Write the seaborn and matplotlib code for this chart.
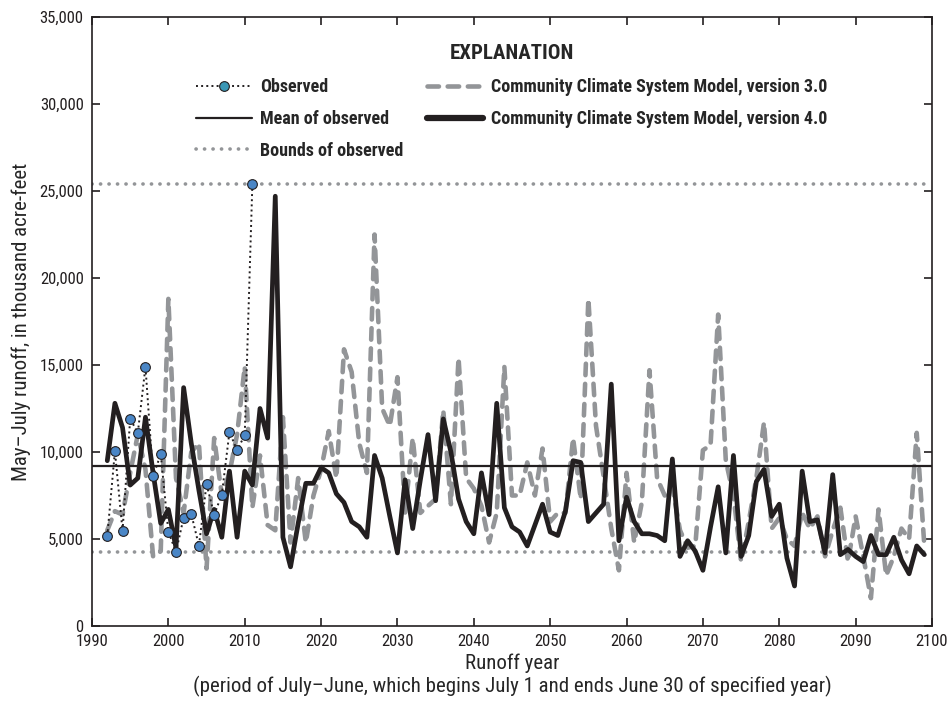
import matplotlib
matplotlib.use("Agg")
import matplotlib.pyplot as plt
from matplotlib.lines import Line2D
from matplotlib.ticker import FuncFormatter
import seaborn as sns
import numpy as np
import pandas as pd

# ---------------- data (thousand acre-feet) ----------------
obs_years = list(range(1992, 2012))
obs_values = [5160, 10040, 5470, 11910, 11100, 14900, 8600, 9880, 5410, 4260,
              6230, 6440, 4610, 8150, 6400, 7550, 11150, 10100, 10970, 25400]

model_years = list(range(1992, 2100))
ccsm3_values = [
    5500, 6600, 6400, 8800, 11000, 9000, 4000, 4300, 18800, 8500,      # 1992-2001
    6500, 10000, 10500, 3300, 10800, 7500, 8800, 11000, 14900, 6800,   # 2002-2011
    9800, 5800, 5500, 12000, 4800, 8500, 4800, 7500, 9000, 11200,      # 2012-2021
    8500, 15900, 14600, 10500, 8800, 22500, 12500, 11500, 14300, 6500, # 2022-2031
    10800, 6500, 6900, 7300, 12400, 7000, 15400, 8500, 7900, 6900,     # 2032-2041
    4800, 6500, 14900, 7500, 7500, 9400, 7500, 10200, 6000, 6500,      # 2042-2051
    6500, 10800, 7300, 18800, 11500, 8600, 5600, 3200, 8800, 4800,     # 2052-2061
    7100, 14700, 8500, 7500, 8000, 5500, 4500, 4600, 10100, 10400,     # 2062-2071
    17900, 9500, 7500, 3700, 6000, 8500, 11700, 5600, 6200, 5000,      # 2072-2081
    4600, 6500, 5600, 6300, 4000, 5500, 6800, 3700, 6300, 4000,        # 2082-2091
    1600, 6700, 2900, 4000, 5600, 5000, 11100, 4600,                   # 2092-2099
]
ccsm4_values = [
    9500, 12800, 11400, 8100, 8500, 12000, 8800, 5900, 6700, 4500,     # 1992-2001
    13700, 10500, 7800, 5300, 6700, 5100, 8900, 5100, 8900, 8100,      # 2002-2011
    12500, 10800, 24700, 5100, 3400, 5900, 8200, 8200, 9100, 8800,     # 2012-2021
    7600, 7100, 6000, 5700, 5100, 9800, 8500, 6300, 4200, 8400,        # 2022-2031
    5600, 8400, 11000, 7200, 11900, 10000, 7300, 6000, 5300, 8800,     # 2032-2041
    6400, 12800, 6800, 5700, 5400, 4600, 5800, 7000, 5400, 5200,       # 2042-2051
    6600, 9500, 9400, 6000, 6500, 7000, 13900, 4900, 7400, 6000,       # 2052-2061
    5300, 5300, 5200, 4900, 9600, 4000, 4900, 4300, 3200, 5700,        # 2062-2071
    8000, 4200, 9800, 4000, 5200, 8300, 9000, 6300, 7000, 3900,        # 2072-2081
    2300, 8900, 6000, 6100, 4200, 8700, 4100, 4400, 4000, 3700,        # 2082-2091
    5200, 4100, 4100, 5100, 3800, 3000, 4600, 4100,                    # 2092-2099
]

x_ticks = list(range(1990, 2101, 10))
y_ticks = list(range(0, 35001, 5000))

legend_labels = ["Observed", "Mean of observed", "Bounds of observed",
                 "Community Climate System Model, version 3.0",
                 "Community Climate System Model, version 4.0"]

# ---------------- styling ----------------
sns.set_style("ticks")
FONT = ["Liberation Sans Narrow", "DejaVu Sans Condensed", "Roboto Condensed",
        "Noto Sans", "DejaVu Sans"]
plt.rcParams["font.family"] = FONT
plt.rcParams["font.stretch"] = "condensed"

GRAY = "#939598"
BLACK = "#231f20"
BLUE = "#4a86c6"

fig = plt.figure(figsize=(9.51, 7.05), dpi=100)
ax = fig.add_axes([92 / 951, 1 - 626 / 705, (932 - 92) / 951, (626 - 17) / 705])

df_obs = pd.DataFrame({"year": obs_years, "value": obs_values})
df_m3 = pd.DataFrame({"year": model_years, "value": ccsm3_values})
df_m4 = pd.DataFrame({"year": model_years, "value": ccsm4_values})

obs_mean = float(np.mean(obs_values))
obs_min = float(np.min(obs_values))
obs_max = float(np.max(obs_values))

# bounds (dotted gray)
bound_kw = dict(color=GRAY, lw=2.6, linestyle=(0, (0.05, 2.3)),
                dash_capstyle="round", zorder=1)
ax.axhline(obs_min, **bound_kw)
ax.axhline(obs_max, **bound_kw)

# CCSM3 dashed gray
sns.lineplot(data=df_m3, x="year", y="value", ax=ax, color=GRAY, lw=3.3,
             zorder=2)
ax.lines[-1].set_dashes((2.5, 1.9))
ax.lines[-1].set_dash_capstyle("round")

# mean line
ax.axhline(obs_mean, color=BLACK, lw=1.6, zorder=3)

# CCSM4 solid black
sns.lineplot(data=df_m4, x="year", y="value", ax=ax, color=BLACK, lw=3.4,
             zorder=4)

# observed dotted with markers
sns.lineplot(data=df_obs, x="year", y="value", ax=ax, color=BLACK, lw=1.4,
             linestyle=":", marker="o", markersize=7,
             markerfacecolor=BLUE, markeredgecolor=BLACK, markeredgewidth=0.8,
             zorder=5)

ax.set_xlim(1990, 2100)
ax.set_ylim(0, 35000)
ax.set_xticks(x_ticks)
ax.set_yticks(y_ticks)
ax.yaxis.set_major_formatter(FuncFormatter(lambda v, p: f"{int(v):,}"))
ax.tick_params(which="both", direction="in", length=6, width=1.2,
               top=True, right=True, bottom=True, left=True,
               labelsize=12, colors=BLACK, pad=6)
for s in ax.spines.values():
    s.set_linewidth(1.2)
    s.set_color(BLACK)

ax.set_ylabel("May–July runoff, in thousand acre-feet", fontsize=15,
              labelpad=6)
ax.set_xlabel("Runoff year\n(period of July–June, which begins July 1 and ends June 30 of specified year)",
              fontsize=15, labelpad=3, linespacing=1.15)

# legend
handles = [
    Line2D([], [], color=BLACK, lw=1.4, linestyle=":", marker="o",
           markersize=7, markerfacecolor="#3a97b5", markeredgecolor=BLACK,
           markeredgewidth=0.8),
    Line2D([], [], color=BLACK, lw=1.6),
    Line2D([], [], color=GRAY, lw=2.6, linestyle=(0, (0.05, 2.3)),
           dash_capstyle="round"),
    Line2D([], [], color=GRAY, lw=3.3, dashes=(2.5, 1.9),
           dash_capstyle="round"),
    Line2D([], [], color=BLACK, lw=4.5),
]
leg = ax.legend(handles, legend_labels, ncol=2, loc="upper left",
                bbox_to_anchor=(187 / 951, 1 - 35 / 705),
                bbox_transform=fig.transFigure, frameon=False,
                title="EXPLANATION", numpoints=1,
                prop={"family": FONT, "weight": "bold", "size": 13,
                      "stretch": "condensed"},
                handlelength=3.1, handletextpad=0.45, columnspacing=1.3,
                labelspacing=0.76, borderpad=0)
leg.get_title().set_fontweight("bold")
leg.get_title().set_fontsize(15)
leg.get_title().set_family(FONT)
leg.get_title().set_stretch("condensed")
leg._legend_box.sep = 11

fig.savefig("out.png", dpi=100)
